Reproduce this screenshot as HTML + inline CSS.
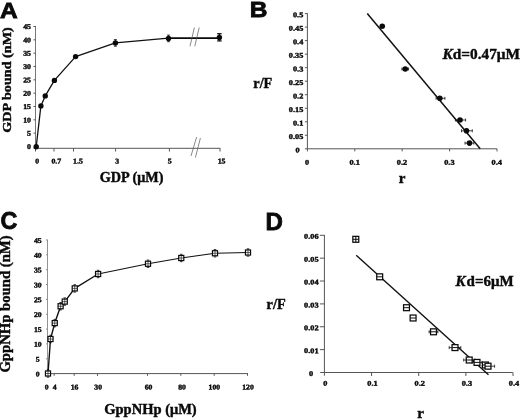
<!DOCTYPE html>
<html lang="en">
<head>
<meta charset="utf-8">
<title>Figure</title>
<style>
html,body{margin:0;padding:0;background:#fff;}
body{width:520px;height:420px;overflow:hidden;}
svg{display:block;filter:blur(0.3px);}
.s{font-family:"Liberation Serif", serif;font-weight:bold;fill:#0a0a0a;stroke:#0a0a0a;stroke-width:0.42px;}
.t{stroke-width:0.4px;}
.a{font-family:"Liberation Sans", sans-serif;font-weight:bold;fill:#0a0a0a;stroke:#0a0a0a;stroke-width:0.8px;}
</style>
</head>
<body>
<svg width="520" height="420" viewBox="0 0 520 420">
<rect x="0" y="0" width="520" height="420" fill="#ffffff"/>
<text class="a" font-size="21.9" transform="translate(0.00 17.70) scale(1.12 1)" x="0" y="0">A</text>
<line x1="35.50" y1="26.00" x2="35.50" y2="148.30" stroke="#777" stroke-width="1"/>
<line x1="33.50" y1="148.30" x2="220.30" y2="148.30" stroke="#555" stroke-width="1"/>
<text class="s t" font-size="7.3" text-anchor="end" transform="translate(31.00 149.10) rotate(0.03) scale(1.08 1)">0</text>
<line x1="33.50" y1="133.17" x2="35.50" y2="133.17" stroke="#555" stroke-width="1"/>
<text class="s t" font-size="7.3" text-anchor="end" transform="translate(31.00 135.77) rotate(0.03) scale(1.08 1)">5</text>
<line x1="33.50" y1="119.83" x2="35.50" y2="119.83" stroke="#555" stroke-width="1"/>
<text class="s t" font-size="7.3" text-anchor="end" transform="translate(31.00 122.43) rotate(0.03) scale(1.08 1)">10</text>
<line x1="33.50" y1="106.50" x2="35.50" y2="106.50" stroke="#555" stroke-width="1"/>
<text class="s t" font-size="7.3" text-anchor="end" transform="translate(31.00 109.10) rotate(0.03) scale(1.08 1)">15</text>
<line x1="33.50" y1="93.17" x2="35.50" y2="93.17" stroke="#555" stroke-width="1"/>
<text class="s t" font-size="7.3" text-anchor="end" transform="translate(31.00 95.77) rotate(0.03) scale(1.08 1)">20</text>
<line x1="33.50" y1="79.83" x2="35.50" y2="79.83" stroke="#555" stroke-width="1"/>
<text class="s t" font-size="7.3" text-anchor="end" transform="translate(31.00 82.43) rotate(0.03) scale(1.08 1)">25</text>
<line x1="33.50" y1="66.50" x2="35.50" y2="66.50" stroke="#555" stroke-width="1"/>
<text class="s t" font-size="7.3" text-anchor="end" transform="translate(31.00 69.10) rotate(0.03) scale(1.08 1)">30</text>
<line x1="33.50" y1="53.17" x2="35.50" y2="53.17" stroke="#555" stroke-width="1"/>
<text class="s t" font-size="7.3" text-anchor="end" transform="translate(31.00 55.77) rotate(0.03) scale(1.08 1)">35</text>
<line x1="33.50" y1="39.83" x2="35.50" y2="39.83" stroke="#555" stroke-width="1"/>
<text class="s t" font-size="7.3" text-anchor="end" transform="translate(31.00 42.43) rotate(0.03) scale(1.08 1)">40</text>
<line x1="33.50" y1="26.50" x2="35.50" y2="26.50" stroke="#555" stroke-width="1"/>
<text class="s t" font-size="7.3" text-anchor="end" transform="translate(31.00 29.10) rotate(0.03) scale(1.08 1)">45</text>
<line x1="35.50" y1="148.30" x2="35.50" y2="151.50" stroke="#555" stroke-width="1"/>
<text class="s t" font-size="7.3" text-anchor="middle" transform="translate(37.20 163.40) rotate(0.03) scale(1.08 1)">0</text>
<line x1="54.00" y1="148.30" x2="54.00" y2="151.50" stroke="#555" stroke-width="1"/>
<text class="s t" font-size="7.3" text-anchor="middle" transform="translate(56.30 163.40) rotate(0.03) scale(1.08 1)">0.7</text>
<line x1="73.50" y1="148.30" x2="73.50" y2="151.50" stroke="#555" stroke-width="1"/>
<text class="s t" font-size="7.3" text-anchor="middle" transform="translate(77.90 163.40) rotate(0.03) scale(1.08 1)">1.5</text>
<line x1="115.60" y1="148.30" x2="115.60" y2="151.50" stroke="#555" stroke-width="1"/>
<text class="s t" font-size="7.3" text-anchor="middle" transform="translate(117.10 163.40) rotate(0.03) scale(1.08 1)">3</text>
<line x1="169.40" y1="148.30" x2="169.40" y2="151.50" stroke="#555" stroke-width="1"/>
<text class="s t" font-size="7.3" text-anchor="middle" transform="translate(169.60 163.40) rotate(0.03) scale(1.08 1)">5</text>
<line x1="220.00" y1="148.30" x2="220.00" y2="151.50" stroke="#555" stroke-width="1"/>
<text class="s t" font-size="7.3" text-anchor="middle" transform="translate(221.60 163.40) rotate(0.03) scale(1.08 1)">15</text>
<polyline points="36.20,146.80 40.90,105.90 45.25,95.90 54.40,80.40 75.60,56.60 115.40,42.90 168.50,38.20" fill="none" stroke="#111" stroke-width="1.3" stroke-linejoin="round"/>
<line x1="168.50" y1="38.15" x2="219.40" y2="38.10" stroke="#0a0a0a" stroke-width="1.6"/>
<line x1="115.40" y1="39.60" x2="115.40" y2="46.20" stroke="#111" stroke-width="0.8"/>
<line x1="113.90" y1="39.60" x2="116.90" y2="39.60" stroke="#111" stroke-width="0.8"/>
<line x1="113.90" y1="46.20" x2="116.90" y2="46.20" stroke="#111" stroke-width="0.8"/>
<line x1="168.50" y1="35.10" x2="168.50" y2="41.70" stroke="#111" stroke-width="0.8"/>
<line x1="167.00" y1="35.10" x2="170.00" y2="35.10" stroke="#111" stroke-width="0.8"/>
<line x1="167.00" y1="41.70" x2="170.00" y2="41.70" stroke="#111" stroke-width="0.8"/>
<line x1="219.40" y1="33.70" x2="219.40" y2="40.90" stroke="#111" stroke-width="1.3"/>
<line x1="217.20" y1="33.70" x2="221.60" y2="33.70" stroke="#111" stroke-width="1.3"/>
<line x1="217.20" y1="40.90" x2="221.60" y2="40.90" stroke="#111" stroke-width="1.3"/>
<circle cx="36.20" cy="146.80" r="2.7" fill="#0a0a0a"/>
<circle cx="40.90" cy="105.90" r="2.7" fill="#0a0a0a"/>
<circle cx="45.25" cy="95.90" r="2.7" fill="#0a0a0a"/>
<circle cx="54.40" cy="80.40" r="2.7" fill="#0a0a0a"/>
<circle cx="75.60" cy="56.60" r="2.7" fill="#0a0a0a"/>
<circle cx="115.40" cy="42.90" r="2.7" fill="#0a0a0a"/>
<circle cx="168.50" cy="38.40" r="2.7" fill="#0a0a0a"/>
<circle cx="219.40" cy="37.40" r="2.7" fill="#0a0a0a"/>
<line x1="190.00" y1="46.25" x2="194.40" y2="27.50" stroke="#555" stroke-width="0.7"/>
<line x1="194.80" y1="46.25" x2="199.20" y2="27.50" stroke="#555" stroke-width="0.7"/>
<line x1="191.00" y1="156.00" x2="196.60" y2="137.00" stroke="#555" stroke-width="0.7"/>
<line x1="195.40" y1="157.60" x2="200.40" y2="138.00" stroke="#555" stroke-width="0.7"/>
<text class="s" font-size="14.2" text-anchor="middle" transform="translate(10.80 80.00) rotate(-90) scale(1 0.93)">GDP bound (nM)</text>
<text x="131.60" y="182.30" class="s" font-size="14.2" text-anchor="middle">GDP (μM)</text>
<text class="a" font-size="21.9" transform="translate(249.70 17.40) scale(1.12 1)" x="0" y="0">B</text>
<line x1="307.40" y1="13.20" x2="307.40" y2="148.80" stroke="#555" stroke-width="1"/>
<line x1="304.90" y1="148.80" x2="497.00" y2="148.80" stroke="#555" stroke-width="1"/>
<text class="s t" font-size="7.3" text-anchor="end" transform="translate(299.60 152.50) rotate(0.03) scale(1.14 1)">0</text>
<line x1="304.90" y1="135.28" x2="307.40" y2="135.28" stroke="#555" stroke-width="1"/>
<text class="s t" font-size="7.3" text-anchor="end" transform="translate(303.30 138.98) rotate(0.03) scale(1.14 1)">0.05</text>
<line x1="304.90" y1="121.76" x2="307.40" y2="121.76" stroke="#555" stroke-width="1"/>
<text class="s t" font-size="7.3" text-anchor="end" transform="translate(303.30 125.46) rotate(0.03) scale(1.14 1)">0.1</text>
<line x1="304.90" y1="108.24" x2="307.40" y2="108.24" stroke="#555" stroke-width="1"/>
<text class="s t" font-size="7.3" text-anchor="end" transform="translate(303.30 111.94) rotate(0.03) scale(1.14 1)">0.15</text>
<line x1="304.90" y1="94.72" x2="307.40" y2="94.72" stroke="#555" stroke-width="1"/>
<text class="s t" font-size="7.3" text-anchor="end" transform="translate(303.30 98.42) rotate(0.03) scale(1.14 1)">0.2</text>
<line x1="304.90" y1="81.20" x2="307.40" y2="81.20" stroke="#555" stroke-width="1"/>
<text class="s t" font-size="7.3" text-anchor="end" transform="translate(303.30 84.90) rotate(0.03) scale(1.14 1)">0.25</text>
<line x1="304.90" y1="67.68" x2="307.40" y2="67.68" stroke="#555" stroke-width="1"/>
<text class="s t" font-size="7.3" text-anchor="end" transform="translate(303.30 71.38) rotate(0.03) scale(1.14 1)">0.3</text>
<line x1="304.90" y1="54.16" x2="307.40" y2="54.16" stroke="#555" stroke-width="1"/>
<text class="s t" font-size="7.3" text-anchor="end" transform="translate(303.30 57.86) rotate(0.03) scale(1.14 1)">0.35</text>
<line x1="304.90" y1="40.64" x2="307.40" y2="40.64" stroke="#555" stroke-width="1"/>
<text class="s t" font-size="7.3" text-anchor="end" transform="translate(303.30 44.34) rotate(0.03) scale(1.14 1)">0.4</text>
<line x1="304.90" y1="27.12" x2="307.40" y2="27.12" stroke="#555" stroke-width="1"/>
<text class="s t" font-size="7.3" text-anchor="end" transform="translate(303.30 30.82) rotate(0.03) scale(1.14 1)">0.45</text>
<line x1="304.90" y1="13.60" x2="307.40" y2="13.60" stroke="#555" stroke-width="1"/>
<text class="s t" font-size="7.3" text-anchor="end" transform="translate(303.30 17.30) rotate(0.03) scale(1.14 1)">0.5</text>
<line x1="307.40" y1="148.80" x2="307.40" y2="151.40" stroke="#555" stroke-width="1"/>
<text class="s t" font-size="7.3" text-anchor="middle" transform="translate(307.20 164.80) rotate(0.03) scale(1.14 1)">0</text>
<line x1="354.80" y1="148.80" x2="354.80" y2="151.40" stroke="#555" stroke-width="1"/>
<text class="s t" font-size="7.3" text-anchor="middle" transform="translate(354.60 164.80) rotate(0.03) scale(1.14 1)">0.1</text>
<line x1="402.20" y1="148.80" x2="402.20" y2="151.40" stroke="#555" stroke-width="1"/>
<text class="s t" font-size="7.3" text-anchor="middle" transform="translate(402.00 164.80) rotate(0.03) scale(1.14 1)">0.2</text>
<line x1="449.60" y1="148.80" x2="449.60" y2="151.40" stroke="#555" stroke-width="1"/>
<text class="s t" font-size="7.3" text-anchor="middle" transform="translate(449.40 164.80) rotate(0.03) scale(1.14 1)">0.3</text>
<line x1="497.00" y1="148.80" x2="497.00" y2="151.40" stroke="#555" stroke-width="1"/>
<text class="s t" font-size="7.3" text-anchor="middle" transform="translate(496.80 164.80) rotate(0.03) scale(1.14 1)">0.4</text>
<line x1="367.25" y1="13.50" x2="480.20" y2="148.80" stroke="#111" stroke-width="1.5"/>
<line x1="401.95" y1="69.00" x2="408.55" y2="69.00" stroke="#111" stroke-width="0.8"/>
<line x1="401.95" y1="67.50" x2="401.95" y2="70.50" stroke="#111" stroke-width="0.8"/>
<line x1="408.55" y1="67.50" x2="408.55" y2="70.50" stroke="#111" stroke-width="0.8"/>
<line x1="436.10" y1="98.30" x2="444.90" y2="98.30" stroke="#111" stroke-width="0.8"/>
<line x1="436.10" y1="96.80" x2="436.10" y2="99.80" stroke="#111" stroke-width="0.8"/>
<line x1="444.90" y1="96.80" x2="444.90" y2="99.80" stroke="#111" stroke-width="0.8"/>
<line x1="455.40" y1="120.00" x2="465.60" y2="120.00" stroke="#111" stroke-width="0.8"/>
<line x1="455.40" y1="118.50" x2="455.40" y2="121.50" stroke="#111" stroke-width="0.8"/>
<line x1="465.60" y1="118.50" x2="465.60" y2="121.50" stroke="#111" stroke-width="0.8"/>
<line x1="461.50" y1="130.80" x2="472.30" y2="130.80" stroke="#111" stroke-width="0.8"/>
<line x1="461.50" y1="129.30" x2="461.50" y2="132.30" stroke="#111" stroke-width="0.8"/>
<line x1="472.30" y1="129.30" x2="472.30" y2="132.30" stroke="#111" stroke-width="0.8"/>
<line x1="465.00" y1="143.10" x2="473.80" y2="143.10" stroke="#111" stroke-width="0.8"/>
<line x1="465.00" y1="141.60" x2="465.00" y2="144.60" stroke="#111" stroke-width="0.8"/>
<line x1="473.80" y1="141.60" x2="473.80" y2="144.60" stroke="#111" stroke-width="0.8"/>
<circle cx="382.25" cy="26.25" r="2.8" fill="#0a0a0a"/>
<circle cx="405.25" cy="69.00" r="2.8" fill="#0a0a0a"/>
<circle cx="439.80" cy="98.30" r="2.8" fill="#0a0a0a"/>
<circle cx="460.00" cy="120.00" r="2.8" fill="#0a0a0a"/>
<circle cx="466.50" cy="130.80" r="2.8" fill="#0a0a0a"/>
<circle cx="469.50" cy="143.10" r="2.8" fill="#0a0a0a"/>
<text x="253.30" y="87.80" class="s" font-size="14.3" text-anchor="start">r/F</text>
<text x="402.10" y="183.20" class="s" font-size="15" text-anchor="middle">r</text>
<text x="442.5" y="58.7" class="s" font-size="15.4" text-anchor="start" textLength="77.5" lengthAdjust="spacingAndGlyphs"><tspan font-style="italic">K</tspan>d=0.47μM</text>
<text class="a" font-size="23.9" transform="translate(0.50 228.80) scale(0.975 1)" x="0" y="0">C</text>
<line x1="47.50" y1="239.60" x2="47.50" y2="373.60" stroke="#888" stroke-width="0.9"/>
<line x1="46.00" y1="373.60" x2="248.00" y2="373.60" stroke="#555" stroke-width="1"/>
<text class="s t" font-size="7.3" text-anchor="middle" transform="translate(37.80 376.50) rotate(0.03) scale(1.06 1)">0</text>
<line x1="46.00" y1="358.76" x2="47.50" y2="358.76" stroke="#888" stroke-width="1"/>
<text class="s t" font-size="7.3" text-anchor="middle" transform="translate(37.80 361.66) rotate(0.03) scale(1.06 1)">5</text>
<line x1="46.00" y1="343.91" x2="47.50" y2="343.91" stroke="#888" stroke-width="1"/>
<text class="s t" font-size="7.3" text-anchor="middle" transform="translate(37.80 346.81) rotate(0.03) scale(1.06 1)">10</text>
<line x1="46.00" y1="329.07" x2="47.50" y2="329.07" stroke="#888" stroke-width="1"/>
<text class="s t" font-size="7.3" text-anchor="middle" transform="translate(37.80 331.97) rotate(0.03) scale(1.06 1)">15</text>
<line x1="46.00" y1="314.22" x2="47.50" y2="314.22" stroke="#888" stroke-width="1"/>
<text class="s t" font-size="7.3" text-anchor="middle" transform="translate(37.80 317.12) rotate(0.03) scale(1.06 1)">20</text>
<line x1="46.00" y1="299.38" x2="47.50" y2="299.38" stroke="#888" stroke-width="1"/>
<text class="s t" font-size="7.3" text-anchor="middle" transform="translate(37.80 302.28) rotate(0.03) scale(1.06 1)">25</text>
<line x1="46.00" y1="284.53" x2="47.50" y2="284.53" stroke="#888" stroke-width="1"/>
<text class="s t" font-size="7.3" text-anchor="middle" transform="translate(37.80 287.43) rotate(0.03) scale(1.06 1)">30</text>
<line x1="46.00" y1="269.69" x2="47.50" y2="269.69" stroke="#888" stroke-width="1"/>
<text class="s t" font-size="7.3" text-anchor="middle" transform="translate(37.80 272.59) rotate(0.03) scale(1.06 1)">35</text>
<line x1="46.00" y1="254.84" x2="47.50" y2="254.84" stroke="#888" stroke-width="1"/>
<text class="s t" font-size="7.3" text-anchor="middle" transform="translate(37.80 257.74) rotate(0.03) scale(1.06 1)">40</text>
<line x1="46.00" y1="240.00" x2="47.50" y2="240.00" stroke="#888" stroke-width="1"/>
<text class="s t" font-size="7.3" text-anchor="middle" transform="translate(37.80 242.90) rotate(0.03) scale(1.06 1)">45</text>
<text class="s t" font-size="7.3" text-anchor="middle" transform="translate(46.75 389.60) rotate(0.03) scale(1.06 1)">0</text>
<line x1="54.17" y1="373.60" x2="54.17" y2="375.80" stroke="#555" stroke-width="1"/>
<text class="s t" font-size="7.3" text-anchor="middle" transform="translate(54.75 389.60) rotate(0.03) scale(1.06 1)">4</text>
<line x1="74.17" y1="373.60" x2="74.17" y2="375.80" stroke="#555" stroke-width="1"/>
<text class="s t" font-size="7.3" text-anchor="middle" transform="translate(74.50 389.60) rotate(0.03) scale(1.06 1)">16</text>
<line x1="97.50" y1="373.60" x2="97.50" y2="375.80" stroke="#555" stroke-width="1"/>
<text class="s t" font-size="7.3" text-anchor="middle" transform="translate(98.20 389.60) rotate(0.03) scale(1.06 1)">30</text>
<line x1="147.50" y1="373.60" x2="147.50" y2="375.80" stroke="#555" stroke-width="1"/>
<text class="s t" font-size="7.3" text-anchor="middle" transform="translate(148.60 389.60) rotate(0.03) scale(1.06 1)">60</text>
<line x1="180.83" y1="373.60" x2="180.83" y2="375.80" stroke="#555" stroke-width="1"/>
<text class="s t" font-size="7.3" text-anchor="middle" transform="translate(182.00 389.60) rotate(0.03) scale(1.06 1)">80</text>
<line x1="214.17" y1="373.60" x2="214.17" y2="375.80" stroke="#555" stroke-width="1"/>
<text class="s t" font-size="7.3" text-anchor="middle" transform="translate(214.40 389.60) rotate(0.03) scale(1.06 1)">100</text>
<line x1="247.50" y1="373.60" x2="247.50" y2="375.80" stroke="#555" stroke-width="1"/>
<text class="s t" font-size="7.3" text-anchor="middle" transform="translate(248.00 389.60) rotate(0.03) scale(1.06 1)">120</text>
<polyline points="48.00,373.50 50.50,339.00 54.75,323.10 60.60,306.25 64.75,301.60 74.75,288.40 98.10,274.00" fill="none" stroke="#111" stroke-width="1.4" stroke-linejoin="round"/>
<polyline points="98.10,274.00 148.00,263.75 181.25,258.00 215.00,253.25 248.00,252.50" fill="none" stroke="#111" stroke-width="1.1" stroke-linejoin="round"/>
<rect x="45.45" y="370.95" width="5.10" height="5.10" fill="#fff" stroke="#0a0a0a" stroke-width="1.2"/>
<line x1="45.45" y1="373.50" x2="50.55" y2="373.50" stroke="#111" stroke-width="0.65"/>
<line x1="48.00" y1="369.80" x2="48.00" y2="377.20" stroke="#111" stroke-width="0.65"/>
<line x1="46.70" y1="369.80" x2="49.30" y2="369.80" stroke="#111" stroke-width="0.8"/>
<line x1="46.70" y1="377.20" x2="49.30" y2="377.20" stroke="#111" stroke-width="0.8"/>
<rect x="47.95" y="336.45" width="5.10" height="5.10" fill="#fff" stroke="#0a0a0a" stroke-width="1.2"/>
<line x1="47.95" y1="339.00" x2="53.05" y2="339.00" stroke="#111" stroke-width="0.65"/>
<line x1="50.50" y1="335.30" x2="50.50" y2="342.70" stroke="#111" stroke-width="0.65"/>
<line x1="49.20" y1="335.30" x2="51.80" y2="335.30" stroke="#111" stroke-width="0.8"/>
<line x1="49.20" y1="342.70" x2="51.80" y2="342.70" stroke="#111" stroke-width="0.8"/>
<rect x="52.20" y="320.55" width="5.10" height="5.10" fill="#fff" stroke="#0a0a0a" stroke-width="1.2"/>
<line x1="52.20" y1="323.10" x2="57.30" y2="323.10" stroke="#111" stroke-width="0.65"/>
<line x1="54.75" y1="319.40" x2="54.75" y2="326.80" stroke="#111" stroke-width="0.65"/>
<line x1="53.45" y1="319.40" x2="56.05" y2="319.40" stroke="#111" stroke-width="0.8"/>
<line x1="53.45" y1="326.80" x2="56.05" y2="326.80" stroke="#111" stroke-width="0.8"/>
<rect x="58.05" y="303.70" width="5.10" height="5.10" fill="#fff" stroke="#0a0a0a" stroke-width="1.2"/>
<line x1="58.05" y1="306.25" x2="63.15" y2="306.25" stroke="#111" stroke-width="0.65"/>
<line x1="60.60" y1="302.55" x2="60.60" y2="309.95" stroke="#111" stroke-width="0.65"/>
<line x1="59.30" y1="302.55" x2="61.90" y2="302.55" stroke="#111" stroke-width="0.8"/>
<line x1="59.30" y1="309.95" x2="61.90" y2="309.95" stroke="#111" stroke-width="0.8"/>
<rect x="62.20" y="299.05" width="5.10" height="5.10" fill="#fff" stroke="#0a0a0a" stroke-width="1.2"/>
<line x1="62.20" y1="301.60" x2="67.30" y2="301.60" stroke="#111" stroke-width="0.65"/>
<line x1="64.75" y1="297.90" x2="64.75" y2="305.30" stroke="#111" stroke-width="0.65"/>
<line x1="63.45" y1="297.90" x2="66.05" y2="297.90" stroke="#111" stroke-width="0.8"/>
<line x1="63.45" y1="305.30" x2="66.05" y2="305.30" stroke="#111" stroke-width="0.8"/>
<rect x="72.20" y="285.85" width="5.10" height="5.10" fill="#fff" stroke="#0a0a0a" stroke-width="1.2"/>
<line x1="72.20" y1="288.40" x2="77.30" y2="288.40" stroke="#111" stroke-width="0.65"/>
<line x1="74.75" y1="284.70" x2="74.75" y2="292.10" stroke="#111" stroke-width="0.65"/>
<line x1="73.45" y1="284.70" x2="76.05" y2="284.70" stroke="#111" stroke-width="0.8"/>
<line x1="73.45" y1="292.10" x2="76.05" y2="292.10" stroke="#111" stroke-width="0.8"/>
<rect x="95.55" y="271.45" width="5.10" height="5.10" fill="#fff" stroke="#0a0a0a" stroke-width="1.2"/>
<line x1="95.55" y1="274.00" x2="100.65" y2="274.00" stroke="#111" stroke-width="0.65"/>
<line x1="98.10" y1="270.30" x2="98.10" y2="277.70" stroke="#111" stroke-width="0.65"/>
<line x1="96.80" y1="270.30" x2="99.40" y2="270.30" stroke="#111" stroke-width="0.8"/>
<line x1="96.80" y1="277.70" x2="99.40" y2="277.70" stroke="#111" stroke-width="0.8"/>
<rect x="145.45" y="261.20" width="5.10" height="5.10" fill="#fff" stroke="#0a0a0a" stroke-width="1.2"/>
<line x1="145.45" y1="263.75" x2="150.55" y2="263.75" stroke="#111" stroke-width="0.65"/>
<line x1="148.00" y1="260.05" x2="148.00" y2="267.45" stroke="#111" stroke-width="0.65"/>
<line x1="146.70" y1="260.05" x2="149.30" y2="260.05" stroke="#111" stroke-width="0.8"/>
<line x1="146.70" y1="267.45" x2="149.30" y2="267.45" stroke="#111" stroke-width="0.8"/>
<rect x="178.70" y="255.45" width="5.10" height="5.10" fill="#fff" stroke="#0a0a0a" stroke-width="1.2"/>
<line x1="178.70" y1="258.00" x2="183.80" y2="258.00" stroke="#111" stroke-width="0.65"/>
<line x1="181.25" y1="254.30" x2="181.25" y2="261.70" stroke="#111" stroke-width="0.65"/>
<line x1="179.95" y1="254.30" x2="182.55" y2="254.30" stroke="#111" stroke-width="0.8"/>
<line x1="179.95" y1="261.70" x2="182.55" y2="261.70" stroke="#111" stroke-width="0.8"/>
<rect x="212.45" y="250.70" width="5.10" height="5.10" fill="#fff" stroke="#0a0a0a" stroke-width="1.2"/>
<line x1="212.45" y1="253.25" x2="217.55" y2="253.25" stroke="#111" stroke-width="0.65"/>
<line x1="215.00" y1="249.55" x2="215.00" y2="256.95" stroke="#111" stroke-width="0.65"/>
<line x1="213.70" y1="249.55" x2="216.30" y2="249.55" stroke="#111" stroke-width="0.8"/>
<line x1="213.70" y1="256.95" x2="216.30" y2="256.95" stroke="#111" stroke-width="0.8"/>
<rect x="245.45" y="249.95" width="5.10" height="5.10" fill="#fff" stroke="#0a0a0a" stroke-width="1.2"/>
<line x1="245.45" y1="252.50" x2="250.55" y2="252.50" stroke="#111" stroke-width="0.65"/>
<line x1="248.00" y1="248.80" x2="248.00" y2="256.20" stroke="#111" stroke-width="0.65"/>
<line x1="246.70" y1="248.80" x2="249.30" y2="248.80" stroke="#111" stroke-width="0.8"/>
<line x1="246.70" y1="256.20" x2="249.30" y2="256.20" stroke="#111" stroke-width="0.8"/>
<text class="s" font-size="14.7" text-anchor="middle" transform="translate(10.00 304.00) rotate(-90) scale(1 0.93)">GppNHp bound (nM)</text>
<text x="150.50" y="414.00" class="s" font-size="14.5" text-anchor="middle">GppNHp (μM)</text>
<text class="a" font-size="23.4" transform="translate(265.40 229.80) scale(1.03 1)" x="0" y="0">D</text>
<line x1="324.40" y1="234.90" x2="324.40" y2="375.70" stroke="#555" stroke-width="1"/>
<line x1="320.20" y1="372.50" x2="512.80" y2="372.50" stroke="#555" stroke-width="1"/>
<text class="s t" font-size="7.3" text-anchor="end" transform="translate(313.20 376.00) rotate(0.03) scale(1.14 1)">0</text>
<line x1="319.90" y1="349.63" x2="324.40" y2="349.63" stroke="#555" stroke-width="1"/>
<text class="s t" font-size="7.3" text-anchor="end" transform="translate(318.60 353.13) rotate(0.03) scale(1.14 1)">0.01</text>
<line x1="319.90" y1="326.77" x2="324.40" y2="326.77" stroke="#555" stroke-width="1"/>
<text class="s t" font-size="7.3" text-anchor="end" transform="translate(318.60 330.27) rotate(0.03) scale(1.14 1)">0.02</text>
<line x1="319.90" y1="303.90" x2="324.40" y2="303.90" stroke="#555" stroke-width="1"/>
<text class="s t" font-size="7.3" text-anchor="end" transform="translate(318.60 307.40) rotate(0.03) scale(1.14 1)">0.03</text>
<line x1="319.90" y1="281.03" x2="324.40" y2="281.03" stroke="#555" stroke-width="1"/>
<text class="s t" font-size="7.3" text-anchor="end" transform="translate(318.60 284.53) rotate(0.03) scale(1.14 1)">0.04</text>
<line x1="319.90" y1="258.17" x2="324.40" y2="258.17" stroke="#555" stroke-width="1"/>
<text class="s t" font-size="7.3" text-anchor="end" transform="translate(318.60 261.67) rotate(0.03) scale(1.14 1)">0.05</text>
<line x1="319.90" y1="235.30" x2="324.40" y2="235.30" stroke="#555" stroke-width="1"/>
<text class="s t" font-size="7.3" text-anchor="end" transform="translate(318.60 238.80) rotate(0.03) scale(1.14 1)">0.06</text>
<text class="s t" font-size="7.3" text-anchor="middle" transform="translate(325.40 385.80) rotate(0.03) scale(1.14 1)">0</text>
<line x1="371.55" y1="372.50" x2="371.55" y2="376.00" stroke="#555" stroke-width="1"/>
<text class="s t" font-size="7.3" text-anchor="middle" transform="translate(372.55 385.80) rotate(0.03) scale(1.14 1)">0.1</text>
<line x1="418.70" y1="372.50" x2="418.70" y2="376.00" stroke="#555" stroke-width="1"/>
<text class="s t" font-size="7.3" text-anchor="middle" transform="translate(419.70 385.80) rotate(0.03) scale(1.14 1)">0.2</text>
<line x1="465.85" y1="372.50" x2="465.85" y2="376.00" stroke="#555" stroke-width="1"/>
<text class="s t" font-size="7.3" text-anchor="middle" transform="translate(466.85 385.80) rotate(0.03) scale(1.14 1)">0.3</text>
<line x1="513.00" y1="372.50" x2="513.00" y2="376.00" stroke="#555" stroke-width="1"/>
<text class="s t" font-size="7.3" text-anchor="middle" transform="translate(514.00 385.80) rotate(0.03) scale(1.14 1)">0.4</text>
<line x1="356.20" y1="255.30" x2="488.50" y2="374.70" stroke="#111" stroke-width="1.4"/>
<line x1="449.20" y1="347.60" x2="460.80" y2="347.60" stroke="#111" stroke-width="0.8"/>
<line x1="449.20" y1="346.10" x2="449.20" y2="349.10" stroke="#111" stroke-width="0.8"/>
<line x1="460.80" y1="346.10" x2="460.80" y2="349.10" stroke="#111" stroke-width="0.8"/>
<line x1="463.70" y1="360.00" x2="474.70" y2="360.00" stroke="#111" stroke-width="0.8"/>
<line x1="463.70" y1="358.50" x2="463.70" y2="361.50" stroke="#111" stroke-width="0.8"/>
<line x1="474.70" y1="358.50" x2="474.70" y2="361.50" stroke="#111" stroke-width="0.8"/>
<line x1="472.00" y1="362.40" x2="482.00" y2="362.40" stroke="#111" stroke-width="0.8"/>
<line x1="472.00" y1="360.90" x2="472.00" y2="363.90" stroke="#111" stroke-width="0.8"/>
<line x1="482.00" y1="360.90" x2="482.00" y2="363.90" stroke="#111" stroke-width="0.8"/>
<line x1="482.20" y1="366.20" x2="494.60" y2="366.20" stroke="#111" stroke-width="0.8"/>
<line x1="482.20" y1="364.70" x2="482.20" y2="367.70" stroke="#111" stroke-width="0.8"/>
<line x1="494.60" y1="364.70" x2="494.60" y2="367.70" stroke="#111" stroke-width="0.8"/>
<line x1="429.10" y1="331.80" x2="437.90" y2="331.80" stroke="#111" stroke-width="0.8"/>
<line x1="429.10" y1="330.30" x2="429.10" y2="333.30" stroke="#111" stroke-width="0.8"/>
<line x1="437.90" y1="330.30" x2="437.90" y2="333.30" stroke="#111" stroke-width="0.8"/>
<line x1="353.60" y1="239.30" x2="358.00" y2="239.30" stroke="#111" stroke-width="0.8"/>
<line x1="353.60" y1="237.80" x2="353.60" y2="240.80" stroke="#111" stroke-width="0.8"/>
<line x1="358.00" y1="237.80" x2="358.00" y2="240.80" stroke="#111" stroke-width="0.8"/>
<rect x="352.85" y="236.35" width="5.90" height="5.90" fill="#fff" stroke="#0a0a0a" stroke-width="1.25"/>
<line x1="352.85" y1="239.30" x2="358.75" y2="239.30" stroke="#111" stroke-width="1.0"/>
<rect x="376.75" y="273.85" width="5.90" height="5.90" fill="#fff" stroke="#0a0a0a" stroke-width="1.25"/>
<line x1="376.75" y1="276.80" x2="382.65" y2="276.80" stroke="#111" stroke-width="1.0"/>
<rect x="403.55" y="304.75" width="5.90" height="5.90" fill="#fff" stroke="#0a0a0a" stroke-width="1.25"/>
<line x1="403.55" y1="307.70" x2="409.45" y2="307.70" stroke="#111" stroke-width="1.0"/>
<rect x="410.15" y="315.05" width="5.90" height="5.90" fill="#fff" stroke="#0a0a0a" stroke-width="1.25"/>
<line x1="410.15" y1="318.00" x2="416.05" y2="318.00" stroke="#111" stroke-width="1.0"/>
<rect x="430.55" y="328.85" width="5.90" height="5.90" fill="#fff" stroke="#0a0a0a" stroke-width="1.25"/>
<line x1="430.55" y1="331.80" x2="436.45" y2="331.80" stroke="#111" stroke-width="1.0"/>
<rect x="452.05" y="344.65" width="5.90" height="5.90" fill="#fff" stroke="#0a0a0a" stroke-width="1.25"/>
<line x1="452.05" y1="347.60" x2="457.95" y2="347.60" stroke="#111" stroke-width="1.0"/>
<rect x="466.25" y="357.05" width="5.90" height="5.90" fill="#fff" stroke="#0a0a0a" stroke-width="1.25"/>
<line x1="466.25" y1="360.00" x2="472.15" y2="360.00" stroke="#111" stroke-width="1.0"/>
<rect x="474.05" y="359.45" width="5.90" height="5.90" fill="#fff" stroke="#0a0a0a" stroke-width="1.25"/>
<line x1="474.05" y1="362.40" x2="479.95" y2="362.40" stroke="#111" stroke-width="1.0"/>
<rect x="482.45" y="362.05" width="5.90" height="5.90" fill="#fff" stroke="#0a0a0a" stroke-width="1.25"/>
<line x1="482.45" y1="365.00" x2="488.35" y2="365.00" stroke="#111" stroke-width="1.0"/>
<rect x="485.05" y="363.25" width="5.90" height="5.90" fill="#fff" stroke="#0a0a0a" stroke-width="1.25"/>
<line x1="485.05" y1="366.20" x2="490.95" y2="366.20" stroke="#111" stroke-width="1.0"/>
<line x1="355.80" y1="236.30" x2="355.80" y2="242.30" stroke="#111" stroke-width="1.1"/>
<text x="266.60" y="309.40" class="s" font-size="14.3" text-anchor="start">r/F</text>
<text x="420.70" y="417.80" class="s" font-size="15" text-anchor="middle">r</text>
<text x="455.4" y="286.0" class="s" font-size="15.0" text-anchor="start"><tspan font-style="italic">K</tspan><tspan dx="1.2">d=6μM</tspan></text>
</svg>
</body>
</html>
